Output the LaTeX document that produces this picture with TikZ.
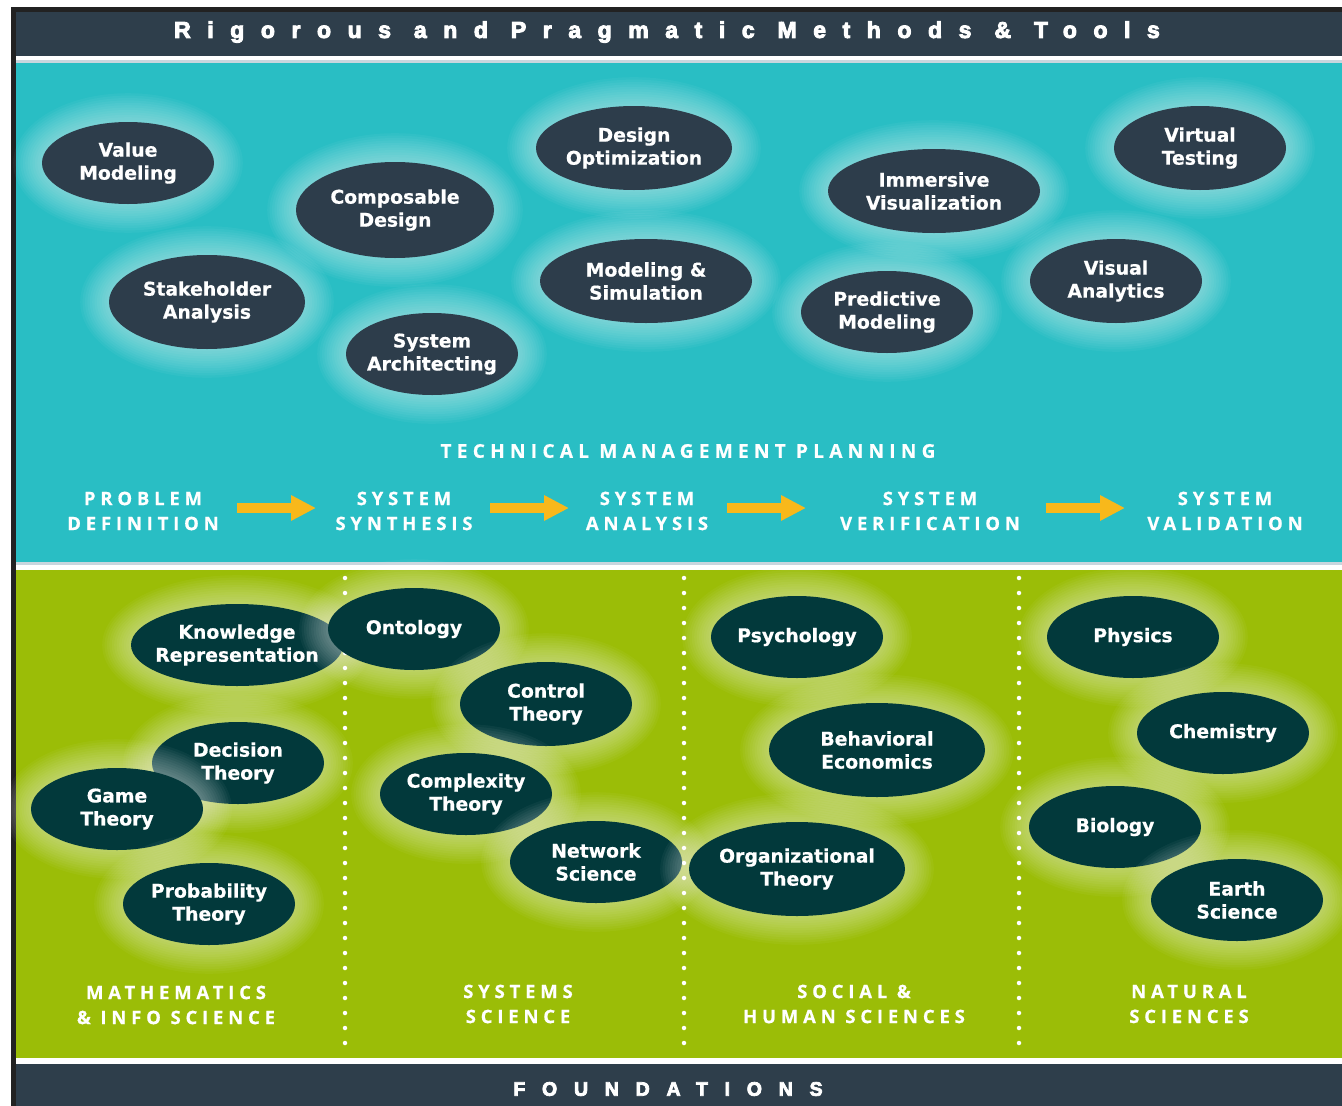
\documentclass[tikz,border=0pt]{standalone}
\usepackage{fontspec}
\setmainfont{DejaVu Sans}
\newfontfamily\bubfont[FakeBold=0.6]{DejaVu Sans Bold}
\newfontfamily\hdfont[LetterSpace=72, FakeBold=4]{Liberation Sans Bold}
\newfontfamily\fdfont[LetterSpace=86, FakeBold=4]{Liberation Sans Bold}
\newfontfamily\lblfont[LetterSpace=26, FakeBold=0.6]{Open Sans Bold}
\newfontfamily\tmpfont[LetterSpace=28, FakeBold=0.6]{Open Sans Bold}
\usetikzlibrary{shapes.geometric,arrows.meta}
\definecolor{cteal}{HTML}{29BEC4}
\definecolor{cgreen}{HTML}{9BBD07}
\definecolor{cslate}{HTML}{2E3E4B}
\definecolor{cbub}{HTML}{2D3D4B}
\definecolor{cgbub}{HTML}{02393B}
\definecolor{carrow}{HTML}{F8B81B}
\definecolor{cborder}{HTML}{222222}
\definecolor{cstripe}{HTML}{C9D6DE}
\tikzset{
  bubble/.style={ellipse, inner sep=0pt, fill=cbub},
  gbubble/.style={ellipse, inner sep=0pt, fill=cgbub},
  btext/.style={text=white, font=\bubfont\fontsize{18.8}{23}\selectfont, align=center, inner sep=0pt},
  lbl/.style={text=white, font=\lblfont\fontsize{18.5}{25}\selectfont, align=center, inner sep=0pt},
  flow/.style={draw=carrow, line width=10pt, -{Triangle[length=25pt,width=24pt]}},
  dotline/.style={draw=white, line width=4.5pt, line cap=round, dash pattern=on 0pt off 15pt},
}
\newcommand\bub[7]{%
  \foreach \g in {1,...,12}{\fill[white,opacity=0.04] (#3,#4) ellipse [x radius={(#5+2.4*\g)*1pt}, y radius={(#6+2.4*\g)*1pt}];}
  \node[#1, minimum width={2*#5pt}, minimum height={2*#6pt}] (#2) at (#3,#4) {};
  \node[btext] (#2t) at (#3,#4) {#7};
}
\begin{document}
\begin{tikzpicture}[x=1pt,y=-1pt]
\useasboundingbox (0,0) rectangle (1342,1106);
\fill[white] (0,0) rectangle (1342,1106);
% frame and bands
\fill[cborder] (11,7) rectangle (1342,1106);
\fill[cslate] (16,12) rectangle (1342,56);
\fill[white] (16,56) rectangle (1342,60);
\fill[cstripe] (16,60) rectangle (1342,63);
\fill[cteal] (16,63) rectangle (1342,562);
\fill[cstripe] (16,562) rectangle (1342,565);
\fill[white] (16,565) rectangle (1342,570);
\fill[cgreen] (16,570) rectangle (1342,1058);
\fill[white] (16,1058) rectangle (1342,1064);
\fill[cslate] (16,1064) rectangle (1342,1106);

\node[text=white, font=\hdfont\fontsize{23}{23}\selectfont, inner sep=0pt] (title) at (667,32) {Rigorous and Pragmatic Methods \& Tools};
\node[text=white, font=\fdfont\fontsize{19.5}{19.5}\selectfont, inner sep=0pt] (found) at (668,1089) {FOUNDATIONS};

% dotted separators
\coordinate (d1a) at (345,578); \coordinate (d1b) at (345,1054);
\coordinate (d2a) at (684,578); \coordinate (d2b) at (684,1054);
\coordinate (d3a) at (1019,578); \coordinate (d3b) at (1019,1054);
\draw[dotline] (d1a) -- (d1b);
\draw[dotline] (d2a) -- (d2b);
\draw[dotline] (d3a) -- (d3b);

% teal bubbles
\bub{bubble}{vm}{128}{163}{86}{41}{Value\\Modeling}
\bub{bubble}{cd}{395}{210}{99}{48}{Composable\\Design}
\bub{bubble}{sa}{207}{302}{98}{47}{Stakeholder\\Analysis}
\bub{bubble}{sar}{432}{354}{86}{41}{System\\Architecting}
\bub{bubble}{do}{634}{148}{98}{42}{Design\\Optimization}
\bub{bubble}{ms}{646}{281}{106}{42}{Modeling \&\\Simulation}
\bub{bubble}{iv}{934}{191}{106}{42}{Immersive\\Visualization}
\bub{bubble}{pm}{887}{312}{86}{41}{Predictive\\Modeling}
\bub{bubble}{vt}{1200}{148}{86}{42}{Virtual\\Testing}
\bub{bubble}{va}{1116}{281}{86}{42}{Visual\\Analytics}

% green bubbles
\bub{gbubble}{kr}{237}{645}{106}{41}{Knowledge\\Representation}
\bub{gbubble}{on}{414}{629}{86}{41}{Ontology}
\bub{gbubble}{ct}{546}{704}{86}{42}{Control\\Theory}
\bub{gbubble}{dt}{238}{763}{86}{41}{Decision\\Theory}
\bub{gbubble}{gt}{117}{809}{86}{41}{Game\\Theory}
\bub{gbubble}{cx}{466}{794}{86}{41}{Complexity\\Theory}
\bub{gbubble}{ns}{596}{862}{86}{41}{Network\\Science}
\bub{gbubble}{pt}{209}{904}{86}{41}{Probability\\Theory}
\bub{gbubble}{ps}{797}{637}{86}{41}{Psychology}
\bub{gbubble}{be}{877}{750}{108}{47}{Behavioral\\Economics}
\bub{gbubble}{ot}{797}{869}{108}{47}{Organizational\\Theory}
\bub{gbubble}{ph}{1133}{637}{86}{41}{Physics}
\bub{gbubble}{ch}{1223}{733}{86}{41}{Chemistry}
\bub{gbubble}{bi}{1115}{827}{86}{41}{Biology}
\bub{gbubble}{es}{1237}{900}{86}{41}{Earth\\Science}

% process labels
\node[lbl, font=\tmpfont\fontsize{19}{25}\selectfont] (tmp) at (688,451) {TECHNICAL MANAGEMENT PLANNING};
\node[lbl] (pd) at (143,511) {PROBLEM\\DEFINITION};
\node[lbl] (ss) at (404,511) {SYSTEM\\SYNTHESIS};
\node[lbl] (san) at (647,511) {SYSTEM\\ANALYSIS};
\node[lbl] (sve) at (930,511) {SYSTEM\\VERIFICATION};
\node[lbl] (sva) at (1225,511) {SYSTEM\\VALIDATION};

\coordinate (a1s) at (237,508); \coordinate (a1e) at (316,508);
\coordinate (a2s) at (490,508); \coordinate (a2e) at (569,508);
\coordinate (a3s) at (727,508); \coordinate (a3e) at (806,508);
\coordinate (a4s) at (1046,508); \coordinate (a4e) at (1125,508);
\draw[flow] (a1s) -- (a1e);
\draw[flow] (a2s) -- (a2e);
\draw[flow] (a3s) -- (a3e);
\draw[flow] (a4s) -- (a4e);

% foundation labels
\node[lbl] (mis) at (176,1005) {MATHEMATICS\\\& INFO SCIENCE};
\node[lbl] (sys) at (518,1004) {SYSTEMS\\SCIENCE};
\node[lbl] (shs) at (854,1004) {SOCIAL \&\\HUMAN SCIENCES};
\node[lbl] (nat) at (1189,1004) {NATURAL\\SCIENCES};
\end{tikzpicture}
\end{document}
